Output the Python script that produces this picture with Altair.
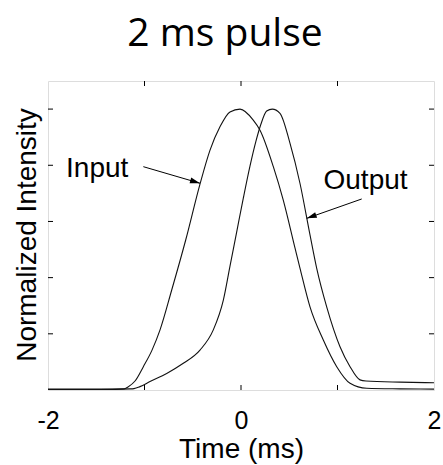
import math
import altair as alt
import pandas as pd

# ---- data ----
input_t = [-2.000, -1.461, -1.212, -1.171, -1.098, -1.012, -0.922, -0.839, -0.718, -0.573,
           -0.425, -0.321, -0.218, -0.114, -0.010, 0.127, 0.197, 0.335, 0.438, 0.560,
           0.611, 0.715, 0.853, 0.992, 1.130, 1.303, 1.648, 2.000]
input_v = [0.003, 0.003, 0.004, 0.011, 0.032, 0.083, 0.142, 0.214, 0.356, 0.534,
           0.733, 0.854, 0.937, 0.990, 1.000, 0.961, 0.925, 0.795, 0.676, 0.505,
           0.434, 0.296, 0.178, 0.083, 0.024, 0.006, 0.004, 0.003]

output_t = [-2.000, -1.461, -1.150, -1.109, -1.047, -0.943, -0.770, -0.598, -0.425, -0.287,
            -0.183, -0.114, -0.045, 0.024, 0.093, 0.155, 0.207, 0.266, 0.324, 0.404,
            0.508, 0.611, 0.715, 0.784, 0.888, 1.026, 1.130, 1.233, 1.295, 1.648, 2.000]
output_v = [0.002, 0.002, 0.004, 0.005, 0.012, 0.030, 0.059, 0.095, 0.142, 0.214,
            0.320, 0.441, 0.562, 0.683, 0.797, 0.886, 0.947, 0.993, 1.000, 0.985,
            0.878, 0.736, 0.552, 0.434, 0.296, 0.154, 0.083, 0.036, 0.032, 0.028, 0.026]

x_label_values = [-2, 0, 2]
x_tick_values = [-1, 0, 1]
y_tick_values = [0.2, 0.4, 0.6, 0.8, 1.0]

ann_labels = ["Input", "Output"]
ann_text_t = [-1.813, 0.855]
ann_text_v = [0.758, 0.715]
arrow_from_t = [-1.012, 1.251]
arrow_from_v = [0.795, 0.680]
arrow_to_t = [-0.425, 0.681]
arrow_to_v = [0.736, 0.611]

X_DOMAIN = [-2, 2]
Y_DOMAIN = [0, 1.1]
W, H = 386, 309
FONT = "Liberation Sans"

# ---- tables ----
lines_df = pd.concat([
    pd.DataFrame({"t": input_t, "v": input_v, "series": "Input"}),
    pd.DataFrame({"t": output_t, "v": output_v, "series": "Output"}),
])
xt_df = pd.DataFrame({"t": x_tick_values})
yt_df = pd.DataFrame({"v": y_tick_values})
ann_df = pd.DataFrame({"label": ann_labels, "t": ann_text_t, "v": ann_text_v})

angles = []
for t0, v0, t1, v1 in zip(arrow_from_t, arrow_from_v, arrow_to_t, arrow_to_v):
    dx = (t1 - t0) * W / (X_DOMAIN[1] - X_DOMAIN[0])
    dy = -(v1 - v0) * H / (Y_DOMAIN[1] - Y_DOMAIN[0])
    angles.append(math.degrees(math.atan2(dy, dx)) % 360)
arrow_df = pd.DataFrame({"t": arrow_from_t, "v": arrow_from_v,
                         "t2": arrow_to_t, "v2": arrow_to_v, "ang": angles})

xs = alt.Scale(domain=X_DOMAIN, nice=False, zero=False)
ys = alt.Scale(domain=Y_DOMAIN, nice=False, zero=False)

x_axis = alt.Axis(values=x_label_values, labelExpr="'' + datum.value", labelFlush=False,
                  ticks=False, tickSize=0, domain=False, grid=False,
                  labelFont=FONT, labelFontSize=25, labelColor="black",
                  labelBaseline="alphabetic", labelPadding=38,
                  title="Time (ms)", titleFont=FONT, titleFontSize=28,
                  titleFontWeight="normal", titleColor="black",
                  titleBaseline="alphabetic", titleY=67)
y_axis = alt.Axis(labels=False, ticks=False, tickSize=0, domain=False, grid=False,
                  title="Normalized Intensity", titleFont=FONT, titleFontSize=28,
                  titleFontWeight="normal", titleColor="black",
                  titleAngle=270, titleAlign="center", titleBaseline="alphabetic",
                  titleX=-13, titleY=H / 2 - 1)


def X(field):
    return alt.X(field, scale=xs, axis=x_axis, title="Time (ms)")


def Y(field):
    return alt.Y(field, scale=ys, axis=y_axis, title="Normalized Intensity")


lines = alt.Chart(lines_df).mark_line(color="#111", strokeWidth=1.1, interpolate="monotone", clip=True).encode(
    x=X("t:Q"), y=Y("v:Q"), detail="series:N",
)

tick_bottom = alt.Chart(xt_df).mark_rule(color="black").encode(
    x=X("t:Q"), y=alt.value(H), y2=alt.value(H - 5))
tick_top = alt.Chart(xt_df).mark_rule(color="black").encode(
    x=X("t:Q"), y=alt.value(0), y2=alt.value(5))
tick_left = alt.Chart(yt_df).mark_rule(color="black").encode(
    y=Y("v:Q"), x=alt.value(0), x2=alt.value(5))
tick_right = alt.Chart(yt_df).mark_rule(color="black").encode(
    y=Y("v:Q"), x=alt.value(W), x2=alt.value(W - 5))

ann_text = alt.Chart(ann_df).mark_text(align="left", baseline="alphabetic", font=FONT,
                                        fontSize=28, color="black").encode(
    x=X("t:Q"), y=Y("v:Q"), text="label:N")

shafts = alt.Chart(arrow_df).mark_rule(color="black", strokeWidth=1).encode(
    x=X("t:Q"), y=Y("v:Q"), x2="t2:Q", y2="v2:Q")

heads = alt.Chart(arrow_df).mark_point(shape="M0,0L-2,-0.6L-2,0.6Z", filled=True,
                                       color="black", opacity=1, size=100).encode(
    x=X("t2:Q"), y=Y("v2:Q"), angle=alt.Angle("ang:Q", scale=None))

chart = alt.layer(lines, tick_bottom, tick_top, tick_left, tick_right, ann_text, shafts, heads).properties(
    width=W, height=H,
    title=alt.TitleParams("2 ms pulse", font="Open Sans", fontSize=39, fontWeight="normal",
                          color="black", anchor="middle", baseline="alphabetic",
                          offset=36, dx=-16, dy=40),
    autosize=alt.AutoSizeParams(type="none"),
    padding={"left": 48, "top": 81, "right": 9, "bottom": 75},
).configure_view(stroke="black", strokeWidth=1).configure(background="white")

chart.save("out.html", embed_options={"renderer": "svg", "actions": False})
